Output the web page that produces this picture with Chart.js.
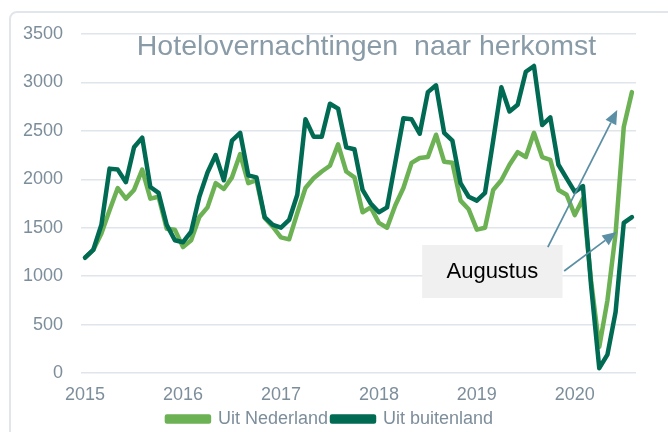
<!DOCTYPE html>
<html>
<head>
<meta charset="utf-8">
<title>Hotelovernachtingen naar herkomst</title>
<script src="https://cdn.jsdelivr.net/npm/chart.js@4.4.1/dist/chart.umd.min.js"></script>
<style>
  body { margin: 0; background: #ffffff; overflow: hidden; }
  #frame {
    position: absolute; left: 9px; top: 11px; width: 800px; height: 800px;
    border: 2px solid #e1e6ea; border-radius: 8px;
  }
  #wrap { position: relative; width: 668px; height: 432px; }
</style>
</head>
<body>
<div id="frame"></div>
<div id="wrap"><canvas id="hotelChart" width="668" height="432"></canvas></div>
<script>
// Chart data (x 1000, monthly, Jan 2015 - Aug 2020)
const yearLabels = ['2015', '2016', '2017', '2018', '2019', '2020'];
const seriesNames = ['Uit Nederland', 'Uit buitenland'];

const uitNederland = [
    1190, 1270, 1440, 1680, 1910, 1800, 1890, 2100, 1800, 1820, 1490, 1480,
    1300, 1370, 1610, 1710, 1960, 1900, 2020, 2260, 1960, 1990, 1600, 1510,
    1400, 1380, 1650, 1910, 2010, 2080, 2140, 2360, 2080, 2020, 1660, 1710,
    1550, 1500, 1730, 1910, 2170, 2220, 2230, 2460, 2180, 2170, 1780, 1690,
    1480, 1500, 1890, 1990, 2150, 2280, 2230, 2480, 2230, 2200, 1890, 1840,
    1630, 1800, 950, 270, 750, 1440, 2540, 2900
];

const uitBuitenland = [
    1190, 1270, 1530, 2110, 2100, 1970, 2330, 2430, 1920, 1860, 1530, 1370,
    1350, 1460, 1820, 2070, 2250, 1990, 2400, 2480, 2040, 2020, 1610, 1530,
    1500, 1580, 1840, 2620, 2440, 2440, 2780, 2730, 2330, 2310, 1890, 1750,
    1660, 1710, 2170, 2630, 2620, 2470, 2900, 2970, 2480, 2400, 1960, 1820,
    1780, 1860, 2400, 2950, 2700, 2770, 3110, 3170, 2560, 2640, 2150, 2010,
    1870, 1930, 900, 50, 190, 630, 1550, 1610
];

const yMin = 0;
const yMax = 3500;
const yStep = 500;

// Styling
const colors = {
    nederland: '#6cb153',
    buitenland: '#006a53',
    grid: '#dfe5ea',
    tick: '#7d8e9b',
    title: '#8a9ba8',
    arrow: '#5b8fa5',
    box: '#f0f0f0'
};
const fontFamily = '"Liberation Sans", Arial, sans-serif';

// Annotation placed in data units (month index, value)
const annotation = {
    text: 'Augustus',
    box: { i1: 41.3, i2: 58.5, v1: 1321, v2: 774 },
    arrows: [
        { from: [56.7, 1300], to: [65.2, 2715] },
        { from: [58.7, 1053], to: [65.1, 1456] }
    ]
};

const monthIndex = uitNederland.map((_, i) => i);

function drawArrow(ctx, x1, y1, x2, y2) {
    const a = Math.atan2(y2 - y1, x2 - x1);
    const len = 14, half = 6;
    const bx = x2 - len * Math.cos(a), by = y2 - len * Math.sin(a);
    ctx.beginPath();
    ctx.moveTo(x1, y1);
    ctx.lineTo(bx, by);
    ctx.stroke();
    ctx.beginPath();
    ctx.moveTo(x2, y2);
    ctx.lineTo(bx + half * Math.sin(a), by - half * Math.cos(a));
    ctx.lineTo(bx - half * Math.sin(a), by + half * Math.cos(a));
    ctx.closePath();
    ctx.fill();
}

const overlayPlugin = {
    id: 'overlay',
    afterDatasetsDraw(chart) {
        const { ctx, chartArea, scales: { x, y } } = chart;
        ctx.save();

        // title inside the plot area
        ctx.font = '28.5px ' + fontFamily;
        ctx.fillStyle = colors.title;
        ctx.textAlign = 'center';
        ctx.textBaseline = 'alphabetic';
        ctx.fillText('Hotelovernachtingen  naar herkomst', (chartArea.left + chartArea.right) / 2 + 8, chartArea.top + 21);

        // annotation box
        const b = annotation.box;
        const bx1 = x.getPixelForValue(b.i1), bx2 = x.getPixelForValue(b.i2);
        const by1 = y.getPixelForValue(b.v1), by2 = y.getPixelForValue(b.v2);
        ctx.fillStyle = colors.box;
        ctx.fillRect(bx1, by1, bx2 - bx1, by2 - by1);
        ctx.font = '22px ' + fontFamily;
        ctx.fillStyle = '#000000';
        ctx.textBaseline = 'middle';
        ctx.fillText(annotation.text, (bx1 + bx2) / 2, (by1 + by2) / 2);

        // arrows
        ctx.strokeStyle = colors.arrow;
        ctx.fillStyle = colors.arrow;
        ctx.lineWidth = 1.75;
        annotation.arrows.forEach(ar => {
            drawArrow(ctx,
                x.getPixelForValue(ar.from[0]), y.getPixelForValue(ar.from[1]),
                x.getPixelForValue(ar.to[0]), y.getPixelForValue(ar.to[1]));
        });
        ctx.restore();
    }
};

const ctx = document.getElementById('hotelChart').getContext('2d');
new Chart(ctx, {
    type: 'line',
    data: {
        labels: monthIndex,
        datasets: [{
            label: seriesNames[0],
            data: uitNederland,
            borderColor: colors.nederland,
            backgroundColor: colors.nederland,
            order: 1
        }, {
            label: seriesNames[1],
            data: uitBuitenland,
            borderColor: colors.buitenland,
            backgroundColor: colors.buitenland,
            order: 0
        }]
    },
    options: {
        responsive: false,
        devicePixelRatio: 1,
        animation: false,
        layout: { padding: { top: 34, right: 8, left: 0, bottom: -6 } },
        elements: {
            line: { borderWidth: 4.5, tension: 0, borderJoinStyle: 'round', borderCapStyle: 'round' },
            point: { radius: 0 }
        },
        plugins: {
            legend: {
                position: 'bottom',
                labels: {
                    boxWidth: 42,
                    boxHeight: 5,
                    padding: 4,
                    color: colors.tick,
                    font: { size: 18, family: fontFamily },
                    sort: (a, b) => a.datasetIndex - b.datasetIndex
                }
            },
            tooltip: { enabled: false }
        },
        scales: {
            x: {
                type: 'category',
                offset: true,
                grid: { display: false, drawTicks: false },
                border: { display: false },
                afterFit: axis => { axis.height = 33; },
                ticks: {
                    autoSkip: false,
                    maxRotation: 0,
                    padding: 11,
                    color: colors.tick,
                    font: { size: 18, family: fontFamily },
                    callback: (value, index) => index % 12 === 0 ? yearLabels[index / 12] : null
                }
            },
            y: {
                min: yMin,
                max: yMax,
                afterFit: axis => { axis.width = 81; },
                grid: { color: colors.grid, lineWidth: 1.5, drawTicks: false },
                border: { display: false },
                ticks: {
                    stepSize: yStep,
                    padding: 18,
                    color: colors.tick,
                    font: { size: 18, family: fontFamily },
                    callback: value => String(value)
                }
            },
            // empty right-hand spacer so the plot ends short of the frame
            spacer: {
                position: 'right',
                grid: { display: false, drawTicks: false },
                border: { display: false },
                ticks: { display: false },
                afterFit: axis => { axis.width = 24; }
            }
        }
    },
    plugins: [overlayPlugin]
});
</script>
</body>
</html>
